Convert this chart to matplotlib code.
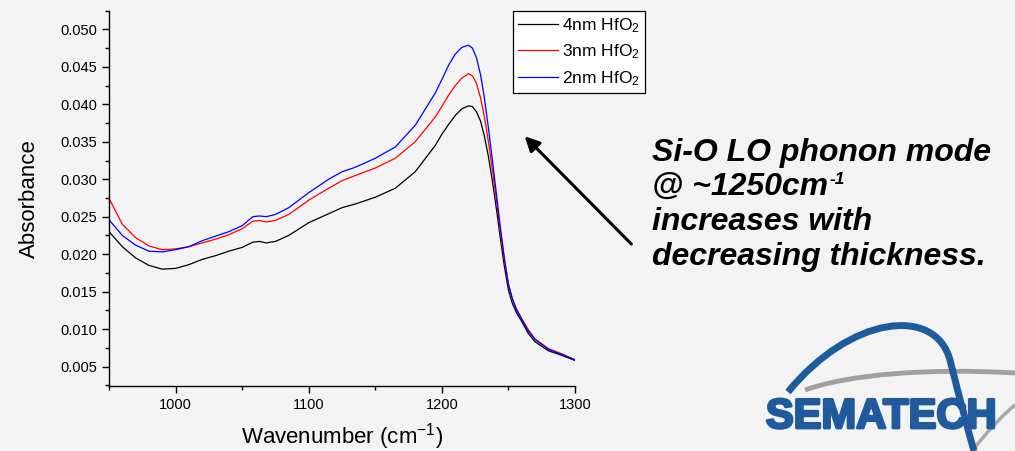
import matplotlib
matplotlib.use("Agg")
import matplotlib.pyplot as plt
from matplotlib.patches import PathPatch, FancyArrowPatch
from matplotlib.path import Path
import matplotlib.patheffects as pe
import numpy as np

plt.rcParams['font.family'] = ['Liberation Sans', 'DejaVu Sans']
plt.rcParams['mathtext.fontset'] = 'custom'
plt.rcParams['mathtext.rm'] = 'Liberation Sans'
plt.rcParams['mathtext.it'] = 'Liberation Sans:italic'
plt.rcParams['mathtext.bf'] = 'Liberation Sans:bold'

# ---------------- data ----------------
wavenumber = [950, 960, 970, 980, 990, 1000, 1010, 1020, 1030, 1040, 1050, 1058,
              1063, 1068, 1075, 1085, 1100, 1115, 1125, 1135, 1150, 1165, 1180,
              1195, 1200, 1205, 1210, 1215, 1220, 1223, 1226, 1229, 1232, 1235,
              1238, 1241, 1244, 1247, 1250, 1253, 1256, 1260, 1265, 1270, 1280,
              1290, 1300]

abs_4nm = [0.0230, 0.0210, 0.0195, 0.0185, 0.0180, 0.0181, 0.0186, 0.0193, 0.0198,
           0.0204, 0.0209, 0.0216, 0.0217, 0.0215, 0.0217, 0.0225, 0.0242, 0.0254,
           0.0262, 0.0267, 0.0276, 0.0288, 0.0310,
           0.0345, 0.0360, 0.0373, 0.0385, 0.0394, 0.0398, 0.0397, 0.0390, 0.0378,
           0.0357, 0.0330, 0.0297, 0.0260, 0.0220, 0.0183, 0.0152, 0.0134, 0.0122,
           0.0110, 0.0094, 0.0083, 0.0071, 0.0065, 0.0058]

abs_3nm = [0.02745, 0.0240, 0.0222, 0.0211, 0.0206, 0.0207, 0.0210, 0.0215, 0.0220,
           0.0226, 0.0234, 0.0244, 0.0245, 0.0243, 0.0245, 0.0253, 0.0272, 0.0288,
           0.0298, 0.0305, 0.0315, 0.0328, 0.0350,
           0.0383, 0.0397, 0.0412, 0.0425, 0.0435, 0.0441, 0.0438, 0.0428, 0.0409,
           0.0383, 0.0350, 0.0312, 0.0272, 0.0230, 0.0192, 0.0160, 0.0140, 0.0127,
           0.0114, 0.0099, 0.0087, 0.0074, 0.0067, 0.0059]

abs_2nm = [0.0246, 0.0225, 0.0212, 0.0204, 0.0203, 0.0206, 0.0210, 0.0218, 0.0224,
           0.0230, 0.0238, 0.0250, 0.0251, 0.0250, 0.0253, 0.0262, 0.0282, 0.0300,
           0.0310, 0.0316, 0.0328, 0.0343, 0.0372,
           0.0415, 0.0433, 0.0452, 0.0467, 0.0476, 0.0479, 0.0475, 0.0462, 0.0440,
           0.0408, 0.0368, 0.0325, 0.0280, 0.0235, 0.0194, 0.0160, 0.0140, 0.0126,
           0.0113, 0.0097, 0.0086, 0.0073, 0.0066, 0.0059]

series_labels = ['4nm HfO$_2$', '3nm HfO$_2$', '2nm HfO$_2$']
series_colors = ['black', 'red', 'blue']

x_ticks = [1000, 1100, 1200, 1300]
y_ticks = [0.005, 0.010, 0.015, 0.020, 0.025, 0.030, 0.035, 0.040, 0.045, 0.050]

note_lines = ['Si-O LO phonon mode', '@ ~1250cm', 'increases with',
              'decreasing thickness.']
note_sup = '-1'

BG = '#f3f3f3'
W, H = 1015, 451
fig = plt.figure(figsize=(W / 100, H / 100), dpi=100, facecolor=BG)
ax = fig.add_axes([109 / W, 1 - 386 / H, (575 - 109) / W, (386 - 10.7) / H])
ax.set_facecolor('none')

for ys, lab, col in zip([abs_4nm, abs_3nm, abs_2nm], series_labels, series_colors):
    ax.plot(wavenumber, ys, color=col, lw=0.9, label=lab)

ax.set_xlim(950, 1300)
ax.set_ylim(0.0024, 0.0525)
ax.set_xticks(x_ticks)
ax.set_xticks([950, 1050, 1150, 1250], minor=True)
ax.set_yticks(y_ticks)
ax.set_yticks(np.arange(0.0025, 0.0526, 0.005), minor=True)
ax.set_yticklabels(['%.3f' % v for v in y_ticks])
for s in ['top', 'right']:
    ax.spines[s].set_visible(False)
for s in ['left', 'bottom']:
    ax.spines[s].set_linewidth(1.0)
ax.tick_params(which='major', direction='out', length=5.3, width=1, labelsize=10.5, pad=3)
ax.tick_params(which='minor', direction='out', length=3, width=1)

ax.set_xlabel('Wavenumber (cm$^{-1}$)', fontsize=16, labelpad=7)
ax.set_ylabel('Absorbance', fontsize=16, labelpad=15)

leg = ax.legend(loc='upper left', bbox_to_anchor=(513 / W, 1 - 10.7 / H),
                bbox_transform=fig.transFigure, fontsize=12.5, frameon=True,
                fancybox=False, handlelength=2.3, borderpad=0.3,
                labelspacing=0.45, handletextpad=0.2, borderaxespad=0)
leg.get_frame().set_edgecolor('black')
leg.get_frame().set_linewidth(0.9)
leg.get_frame().set_facecolor('white')
leg.get_frame().set_alpha(1)

# annotation arrow
fig.add_artist(FancyArrowPatch(
    (633.3, H - 246), (522.7, H - 134.3), transform=None,
    arrowstyle='-|>', mutation_scale=22, lw=2.2, color='black'))

baselines = [161, 195, 230, 265]
note_texts = []
for t, b in zip(note_lines, baselines):
    note_texts.append(fig.text(652 / W, 1 - b / H, t, fontsize=23, fontweight='bold',
                               fontstyle='italic', va='baseline', ha='left',
                               color='black'))
fig.canvas.draw()
bb = note_texts[1].get_window_extent()
fig.text((bb.x1 + 1) / W, 1 - 184 / H, note_sup, fontsize=12.5, fontweight='bold',
         fontstyle='italic', va='baseline', ha='left', color='black')

# SEMATECH logo (approximation)
logo_blue = '#1f5a9c'
grey_path = Path([(805, H - 390), (850, H - 374), (930, H - 368), (1015, H - 373)],
                 [Path.MOVETO, Path.CURVE4, Path.CURVE4, Path.CURVE4])
fig.add_artist(PathPatch(grey_path, transform=None, facecolor='none',
                         edgecolor='#a0a0a0', lw=3.5))
grey2 = Path([(972, H - 451), (990, H - 428), (1005, H - 413), (1015, H - 405)],
             [Path.MOVETO, Path.CURVE4, Path.CURVE4, Path.CURVE4])
fig.add_artist(PathPatch(grey2, transform=None, facecolor='none',
                         edgecolor='#a8a8a8', lw=2.5))
blue_path = Path([(788, H - 392), (850, H - 316), (935, H - 305), (950, H - 360),
                  (960, H - 400), (968, H - 430), (974, H - 451)],
                 [Path.MOVETO, Path.CURVE4, Path.CURVE4, Path.CURVE4,
                  Path.CURVE4, Path.CURVE4, Path.CURVE4])
fig.add_artist(PathPatch(blue_path, transform=None, facecolor='none',
                         edgecolor=logo_blue, lw=5, capstyle='butt'))
fig.text(881 / W, 1 - 417 / H, 'SEMATECH', fontsize=30, fontweight='bold',
         color=logo_blue, ha='center', va='center',
         path_effects=[pe.withStroke(linewidth=2, foreground=logo_blue)])

fig.savefig('out.png', dpi=100, facecolor=BG)
